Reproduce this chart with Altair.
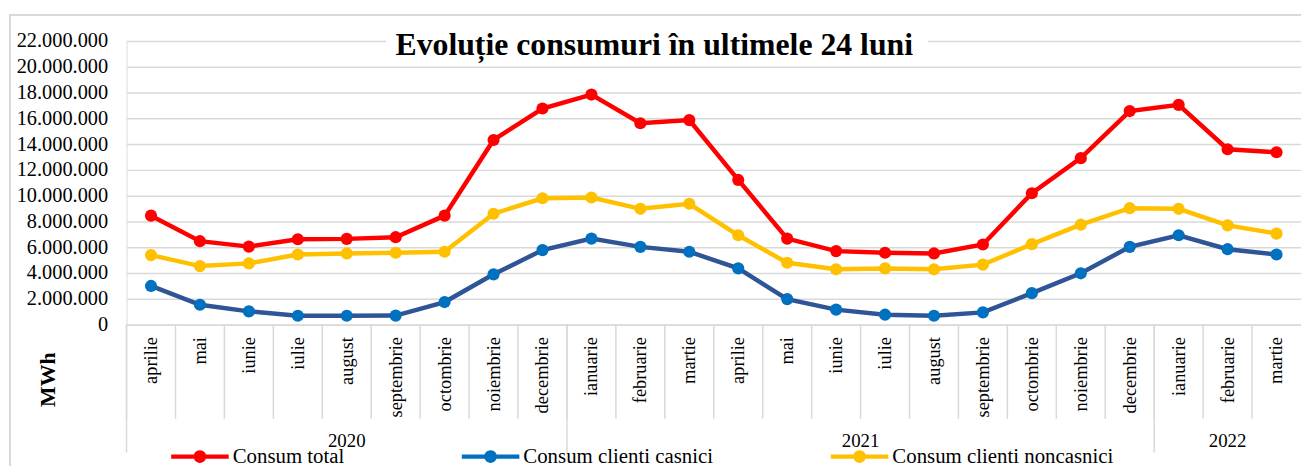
import altair as alt
import pandas as pd

# ---- data ----
months = ["aprilie", "mai", "iunie", "iulie", "august", "septembrie", "octombrie",
          "noiembrie", "decembrie", "ianuarie", "februarie", "martie",
          "aprilie", "mai", "iunie", "iulie", "august", "septembrie", "octombrie",
          "noiembrie", "decembrie", "ianuarie", "februarie", "martie"]
years = [2020] * 9 + [2021] * 12 + [2022] * 3

consum_total = [8450000, 6470000, 6050000, 6620000, 6650000, 6780000, 8450000,
                14320000, 16760000, 17840000, 15620000, 15860000,
                11220000, 6670000, 5700000, 5570000, 5520000, 6210000, 10190000,
                12910000, 16560000, 17040000, 13600000, 13370000]
consum_casnici = [3000000, 1540000, 1030000, 690000, 690000, 700000, 1750000,
                  3900000, 5780000, 6670000, 6030000, 5650000,
                  4360000, 1980000, 1160000, 770000, 690000, 950000, 2440000,
                  3980000, 6030000, 6930000, 5850000, 5440000]
consum_noncasnici = [5390000, 4540000, 4750000, 5440000, 5520000, 5570000, 5650000,
                     8600000, 9800000, 9860000, 8980000, 9370000,
                     6930000, 4800000, 4290000, 4360000, 4290000, 4650000, 6240000,
                     7750000, 9030000, 8980000, 7700000, 7060000]

series_names = ["Consum total", "Consum clienti casnici", "Consum clienti noncasnici"]
line_colors = ["#FF0000", "#2F5597", "#FFC000"]
marker_colors = ["#FF0000", "#0070C0", "#FFC000"]
y_ticks = list(range(0, 22000001, 2000000))
title_text = "Evoluție consumuri în ultimele 24 luni"

# ---- layout constants ----
W = 1184
H = 286
FONT = "Liberation Serif"
GRID = "#D9D9D9"

cats = [f"{y}|{m}" for y, m in zip(years, months)]
rows = []
for name, vals in zip(series_names, [consum_total, consum_casnici, consum_noncasnici]):
    for c, v in zip(cats, vals):
        rows.append({"cat": c, "serie": name, "linie": name, "val": v})
df = pd.DataFrame(rows)

idx_df = pd.DataFrame({"idx": list(range(len(months))), "an": years})

x_axis = alt.Axis(title=None, labelExpr="split(datum.value, '|')[1]",
                  labelAngle=-90, labelAlign="right", labelBaseline="middle",
                  labelFont=FONT, labelFontSize=18.5, labelColor="#000000",
                  labelPadding=12, ticks=False, domain=True, labelOverlap=False,
                  domainColor=GRID, domainWidth=1.5, grid=False)
x_scale = alt.Scale(type="band", paddingInner=0, paddingOuter=0)
y_axis = alt.Axis(title="MWh", values=y_ticks, labelOverlap=False,
                  labelExpr="replace(format(datum.value, ',d'), /,/g, '.')",
                  labelFont=FONT, labelFontSize=20.5, labelColor="#000000",
                  labelPadding=19, ticks=False, domain=False,
                  grid=True, gridColor=GRID, gridWidth=1.5,
                  titleFont=FONT, titleFontSize=22, titleFontWeight="bold",
                  titleColor="#000000", titleAngle=270,
                  titleAlign="center", titleBaseline="middle",
                  titleX=-80, titleY=341)
y_scale = alt.Scale(domain=[0, 22000000], nice=False)

lines = alt.Chart(df).mark_line(strokeWidth=4.5).encode(
    x=alt.X("cat:N", sort=cats, scale=x_scale, axis=x_axis),
    y=alt.Y("val:Q", scale=y_scale, axis=y_axis),
    stroke=alt.Stroke("linie:N", sort=series_names,
                      scale=alt.Scale(range=line_colors), legend=None),
    detail="linie:N",
)

sym = ("M-1,-0.075H1V0.075H-1Z "
       "M0.22,0A0.22,0.22 0 1,1 -0.22,0A0.22,0.22 0 1,1 0.22,0Z")

points = alt.Chart(df).mark_circle(size=150, opacity=1).encode(
    x=alt.X("cat:N", sort=cats, scale=x_scale, axis=x_axis),
    y=alt.Y("val:Q", scale=y_scale, axis=y_axis),
    color=alt.Color("serie:N", sort=series_names,
                    scale=alt.Scale(domain=series_names, range=marker_colors),
                    legend=alt.Legend(title=None, orient="none", direction="horizontal",
                                      legendX=45, legendY=390,
                                      symbolType=sym, symbolSize=3364,
                                      symbolStrokeWidth=0, symbolOpacity=1,
                                      labelFont=FONT, labelFontSize=21, labelLimit=0,
                                      labelColor="#000000", labelOffset=4,
                                      columnPadding=118)),
)

main = alt.layer(lines, points)

# decorative hierarchical axis (month / year separators and year labels)
qx = alt.Scale(domain=[0, len(months)], nice=False, zero=False)

month_sep = alt.Chart(idx_df).mark_rule(color=GRID, strokeWidth=1.5).encode(
    x=alt.X("idx:Q", scale=qx, axis=None),
    y=alt.value(H), y2=alt.value(H + 95),
)

year_tbl = alt.Chart(idx_df).transform_aggregate(
    start="min(idx)", n="count()", groupby=["an"]
).transform_calculate(
    mid="datum.start + datum.n / 2", end="datum.start + datum.n"
)

year_sep = year_tbl.mark_rule(color=GRID, strokeWidth=1.5).encode(
    x=alt.X("start:Q", scale=qx, axis=None),
    y=alt.value(H), y2=alt.value(H + 129),
)
year_text = year_tbl.mark_text(font=FONT, fontSize=19, color="#000000",
                               baseline="middle", align="center").encode(
    x=alt.X("mid:Q", scale=qx, axis=None),
    y=alt.value(H + 117),
    text="an:N",
)

frame = alt.Chart(idx_df).mark_rect(fill=None, stroke=GRID, strokeWidth=1.5).encode(
    x=alt.value(-117.5), x2=alt.value(W + 40), y=alt.value(-26.3), y2=alt.value(H + 200),
)
title_bg = alt.Chart(idx_df).mark_rect(fill="white").encode(
    x=alt.value(262), x2=alt.value(808), y=alt.value(-10), y2=alt.value(17),
)
title_mark = alt.Chart(pd.DataFrame({"t": [title_text]})).mark_text(
    font=FONT, fontSize=32, fontWeight="bold", color="#000000",
    align="center", baseline="middle",
).encode(x=alt.value(W / 2 - 60), y=alt.value(4), text="t:N")

deco = alt.layer(frame, month_sep, year_sep, year_text, title_bg, title_mark)

chart = alt.layer(deco, main).resolve_scale(x="independent").properties(
    width=W, height=H,
    autosize=alt.AutoSizeParams(type="none"),
    padding={"left": 119.5, "top": 31.3, "right": 0, "bottom": 150},
).configure_view(stroke=None).configure(background="white")

chart.save("out.html", embed_options={"renderer": "svg", "actions": False})
